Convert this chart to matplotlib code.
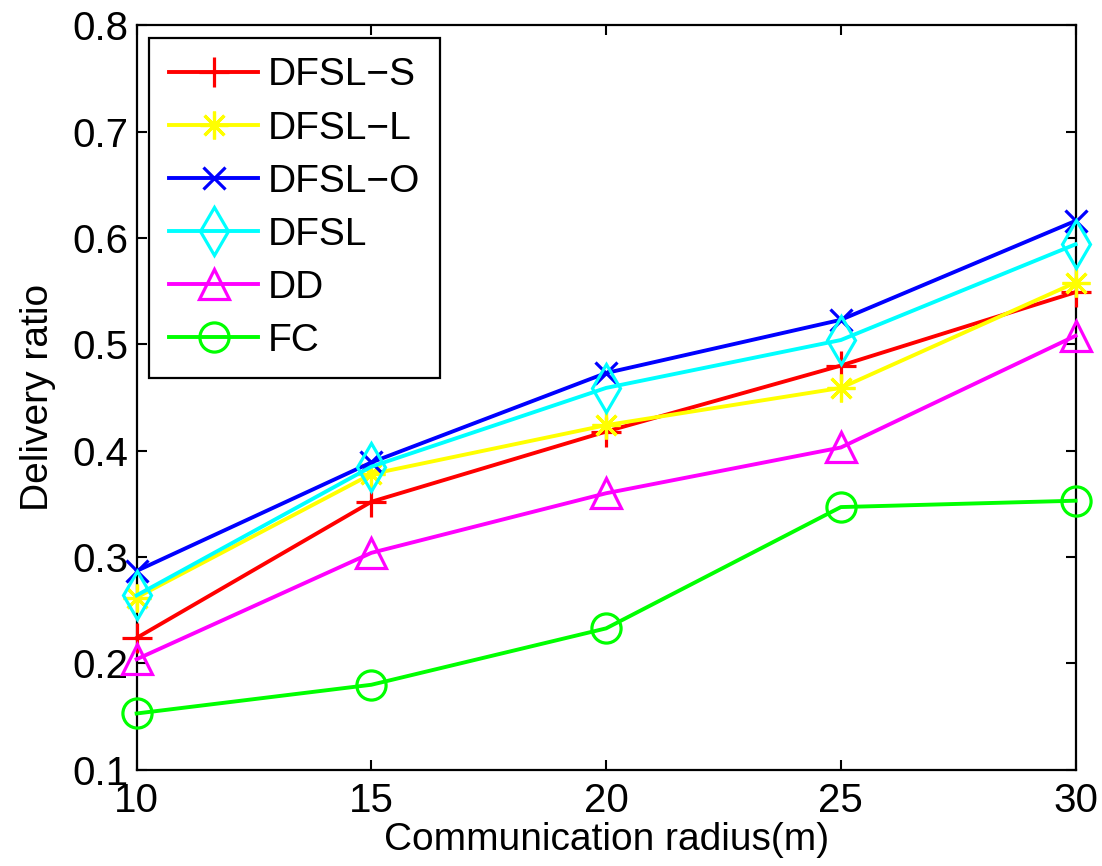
import numpy as np
import matplotlib
matplotlib.use("Agg")
import matplotlib.pyplot as plt

plt.rcParams['font.family'] = ['Liberation Sans', 'DejaVu Sans']

# ------------------------------
# data
# ------------------------------
radius = [10, 15, 20, 25, 30]
labels = ["DFSL\u2212S", "DFSL\u2212L", "DFSL\u2212O", "DFSL", "DD", "FC"]

dfsl_s = [0.224, 0.352, 0.418, 0.480, 0.549]
dfsl_l = [0.262, 0.378, 0.424, 0.459, 0.558]
dfsl_o = [0.287, 0.389, 0.473, 0.523, 0.616]
dfsl = [0.264, 0.385, 0.459, 0.504, 0.594]
dd = [0.204, 0.304, 0.360, 0.403, 0.508]
fc = [0.153, 0.180, 0.233, 0.347, 0.353]

series = [dfsl_s, dfsl_l, dfsl_o, dfsl, dd, fc]
colors = ['#ff0000', '#ffff00', '#0000ff', '#00ffff', '#ff00ff', '#00ff00']
markers = ['+', (8, 2, 0), 'x', 'd', '^', 'o']
msizes = [22, 20, 16, 24, 22, 21]

# ------------------------------
# plot
# ------------------------------
fig = plt.figure(figsize=(11.02, 8.66), dpi=100)
ax = fig.add_axes([0.124, 0.111, 0.852, 0.860])

for y, lab, c, m, ms in zip(series, labels, colors, markers, msizes):
    ax.plot(radius, y, color=c, lw=2.8, marker=m, ms=ms, mew=2.3,
            mfc='none', mec=c, label=lab, clip_on=False)

ax.set_xlim(10, 30)
ax.set_ylim(0.1, 0.8)
ax.set_xticks(radius)
ax.set_yticks(np.arange(0.1, 0.81, 0.1))
ax.set_yticklabels(["%.1f" % v for v in np.arange(0.1, 0.81, 0.1)])

ax.tick_params(direction='in', length=7, width=1.5, labelsize=29,
               top=True, right=True)
ax.tick_params(axis='x', pad=9)
ax.tick_params(axis='y', pad=6)
for s in ax.spines.values():
    s.set_linewidth(1.6)
    s.set_zorder(0.5)

ax.set_xlabel("Communication radius(m)", fontsize=28, labelpad=1)
ax.set_ylabel("Delivery ratio", fontsize=28, labelpad=12)

leg = ax.legend(loc='upper left', fontsize=28, handlelength=2.3,
                handletextpad=0.25, labelspacing=0.44, borderpad=0.5,
                borderaxespad=0.33, fancybox=False, framealpha=1)
leg.get_frame().set_edgecolor('black')
leg.get_frame().set_linewidth(1.6)
leg.set_zorder(5)

fig.savefig("out.png", dpi=100)
